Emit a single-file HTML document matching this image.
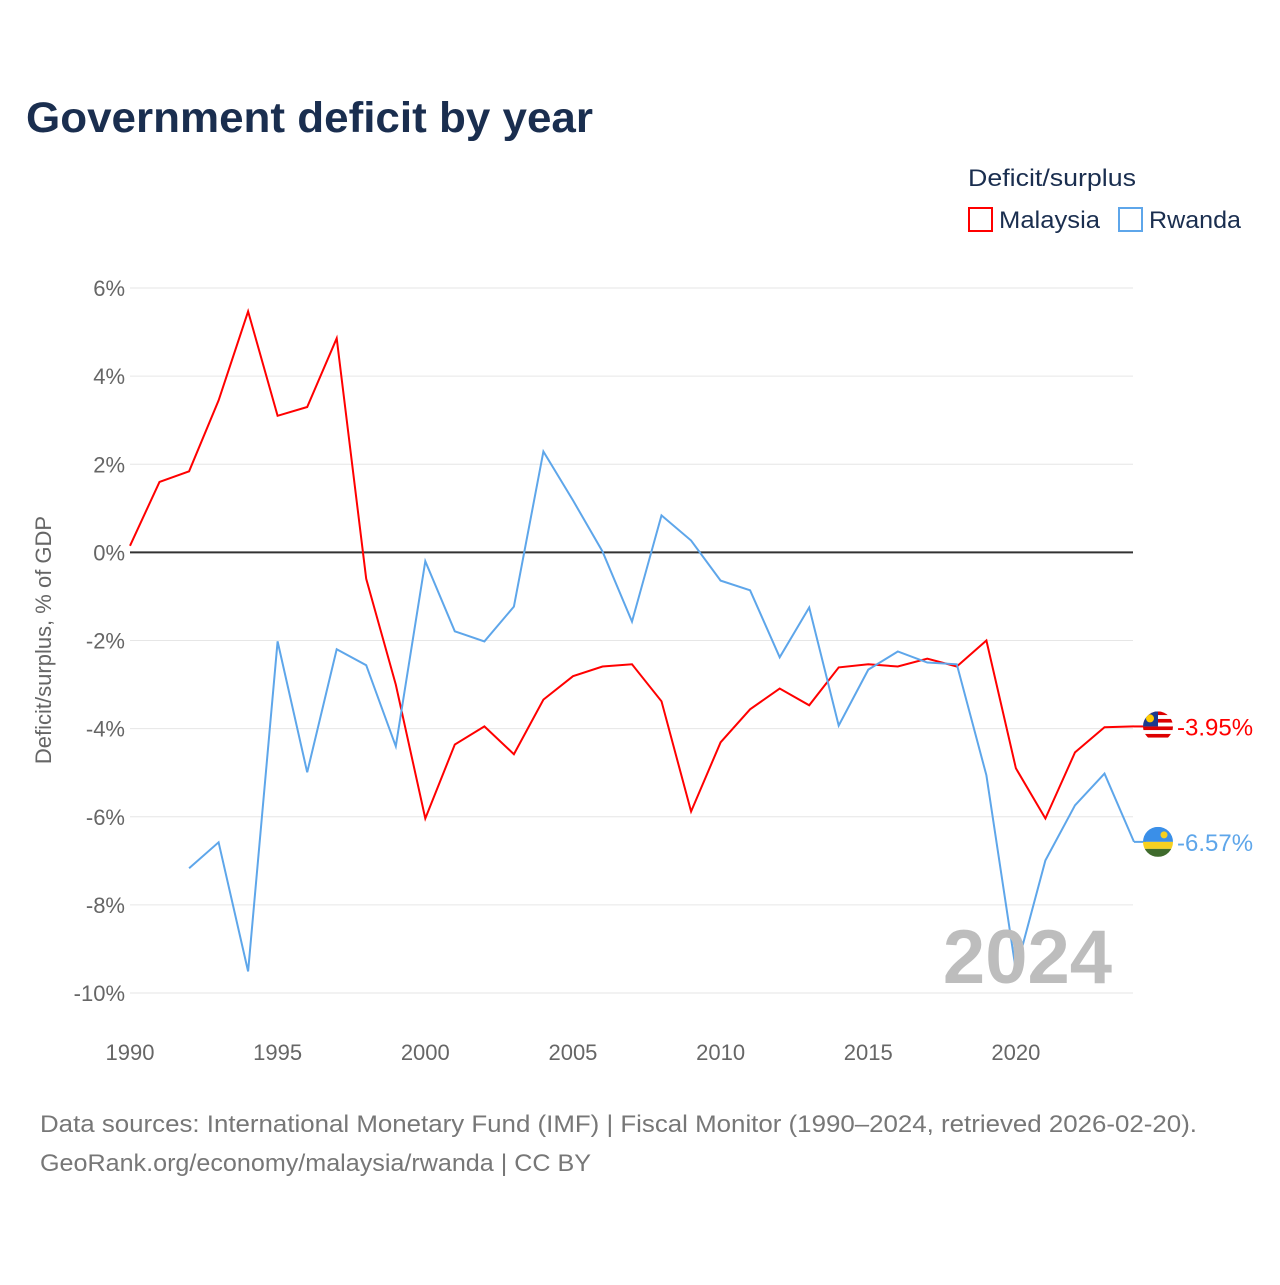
<!DOCTYPE html>
<html><head><meta charset="utf-8"><style>
body{margin:0;background:#fff;width:1280px;height:1280px;overflow:hidden;font-family:"Liberation Sans",sans-serif}
</style></head><body>
<svg id="c" width="1280" height="1280" xmlns="http://www.w3.org/2000/svg">
<text x="26" y="132" font-size="43" font-weight="bold" fill="#1a2e4f" textLength="567" lengthAdjust="spacingAndGlyphs">Government deficit by year</text>
<text x="968" y="186" font-size="24" fill="#1a2e4f" textLength="168" lengthAdjust="spacingAndGlyphs">Deficit/surplus</text>
<g><rect x="969" y="208" width="23" height="23" fill="#fff" stroke="#f00" stroke-width="2"/><text x="999" y="228" font-size="24" fill="#1a2e4f" textLength="101" lengthAdjust="spacingAndGlyphs">Malaysia</text></g>
<g><rect x="1119" y="208" width="23" height="23" fill="#fff" stroke="#5ea6ea" stroke-width="2"/><text x="1149" y="228" font-size="24" fill="#1a2e4f" textLength="92" lengthAdjust="spacingAndGlyphs">Rwanda</text></g>
<text transform="translate(51,640) rotate(-90)" text-anchor="middle" font-size="22" fill="#666">Deficit/surplus, % of GDP</text>
<g id="grid"></g><g id="marks"></g>
<text x="1112" y="983" text-anchor="end" font-size="76" font-weight="bold" fill="#bdbdbd">2024</text>
<text x="40" y="1132" font-size="24" fill="#777" textLength="1157" lengthAdjust="spacingAndGlyphs">Data sources: International Monetary Fund (IMF) | Fiscal Monitor (1990–2024, retrieved 2026-02-20).</text>
<text x="40" y="1171" font-size="24" fill="#777" textLength="551" lengthAdjust="spacingAndGlyphs">GeoRank.org/economy/malaysia/rwanda | CC BY</text>
</svg>
<script>
const years=[];for(let y=1990;y<=2024;y++)years.push(y);
const malaysia=[0.15,1.6,1.84,3.45,5.47,3.1,3.3,4.86,-0.6,-3.0,-6.04,-4.36,-3.95,-4.58,-3.34,-2.81,-2.59,-2.54,-3.38,-5.88,-4.31,-3.56,-3.09,-3.47,-2.61,-2.54,-2.59,-2.41,-2.59,-2.0,-4.9,-6.04,-4.54,-3.97,-3.95];
const rwanda=[null,null,-7.17,-6.58,-9.51,-2.02,-4.99,-2.2,-2.56,-4.4,-0.2,-1.79,-2.02,-1.23,2.29,1.18,0.02,-1.57,0.84,0.27,-0.64,-0.86,-2.38,-1.25,-3.93,-2.66,-2.25,-2.5,-2.54,-5.06,-9.49,-6.99,-5.74,-5.02,-6.57];
const yTicks=[6,4,2,0,-2,-4,-6,-8,-10];
const xTicks=[1990,1995,2000,2005,2010,2015,2020];
const X=y=>130+(y-1990)*29.53, Y=v=>552.4-v*44.06;
const NS="http://www.w3.org/2000/svg";
function mk(p,t,a){const e=document.createElementNS(NS,t);for(const k in a)e.setAttribute(k,a[k]);p.appendChild(e);return e;}
const g=document.getElementById('grid'),m=document.getElementById('marks');
yTicks.forEach(v=>{const l=mk(g,'line',{x1:130,x2:1133,y1:Y(v),y2:Y(v),stroke:v===0?'#333':'#e6e6e6','stroke-width':v===0?2:1});


const t=mk(g,'text',{x:125,y:Y(v)+8,'text-anchor':'end','font-size':22,fill:'#666'});t.textContent=v+'%';

});
xTicks.forEach(y=>{const t=mk(g,'text',{x:X(y),y:1060,'text-anchor':'middle','font-size':22,fill:'#666'});t.textContent=y;

});
function line(vals,col,name){let d='';vals.forEach((v,i)=>{if(v===null)return;d+=(d?'L':'M')+X(years[i]).toFixed(1)+' '+Y(v).toFixed(1);});
const p=mk(m,'path',{d:d,fill:'none',stroke:col,'stroke-width':2});

}
line(malaysia,'#f00','malaysia');line(rwanda,'#5ea6ea','rwanda');
function endLabel(v,col,name,flag){const y=Y(v);mk(m,'line',{x1:1134,x2:1146,y1:y,y2:y,stroke:col,'stroke-width':2});
const f=mk(m,'g',{});
const cx=1158;const id='cl'+name;const cp=mk(f,'clipPath',{id:id});mk(cp,'circle',{cx:cx,cy:y,r:15});
const gg=mk(f,'g',{'clip-path':'url(#'+id+')'});flag(gg,cx,y);
const t=mk(m,'text',{x:1177,y:y+9,'font-size':24,fill:col});t.textContent=v.toFixed(2)+'%';

}
endLabel(malaysia[34],'#f00','malaysia',(p,cx,cy)=>{for(let i=0;i<8;i++)mk(p,'rect',{x:cx-15,y:cy-15+i*3.75,width:30,height:3.75,fill:i%2?'#fff':'#d00'});mk(p,'rect',{x:cx-15,y:cy-15,width:15,height:15,fill:'#1a3a8f'});mk(p,'circle',{cx:cx-8,cy:cy-8,r:4,fill:'#fc0'});});
endLabel(rwanda[34],'#5ea6ea','rwanda',(p,cx,cy)=>{mk(p,'rect',{x:cx-15,y:cy-15,width:30,height:15,fill:'#3a8fe8'});mk(p,'rect',{x:cx-15,y:cy,width:30,height:7,fill:'#f5d020'});mk(p,'rect',{x:cx-15,y:cy+7,width:30,height:8,fill:'#3f6b2c'});mk(p,'circle',{cx:cx+6,cy:cy-7,r:3.5,fill:'#f5d020'});});
</script>
</body></html>
